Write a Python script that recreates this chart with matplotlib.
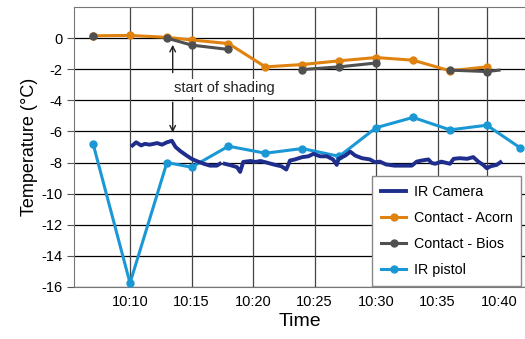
import numpy as np
import matplotlib
matplotlib.use("Agg")
import matplotlib.pyplot as plt
from matplotlib.ticker import FuncFormatter, FixedLocator

plt.rcParams['font.family'] = ['Liberation Sans', 'DejaVu Sans']
plt.rcParams['axes.unicode_minus'] = False

# times are minutes after 10:00
cam_t = [10.2, 10.5, 10.9, 11.2, 11.6, 12.2, 12.6, 13.0, 13.4, 13.7, 14.1, 14.6,
         15.0, 15.4, 16.0, 16.5, 17.05, 17.3, np.nan,
         17.7, 18.3, 18.7, 18.95, 19.2, 19.8, 20.2, 20.6, 21.0, 21.8, 22.3, 22.7,
         23.0, 23.4, 24.0, 24.5, 24.9, 25.45, 26.0, 26.5, 26.8, 26.95, 27.5,
         27.9, 28.3, 28.85, 29.5, 29.9, 30.3, 30.8, 31.5, 32.4, 32.9, 33.3,
         33.7, 34.25, 34.5, 34.8, 35.3, 36.0, 36.3, 36.8, 37.4, 37.9, 38.3,
         38.7, 39.0, 39.3, 39.8, 40.1]
cam_v = [-6.9, -6.7, -6.9, -6.8, -6.85, -6.75, -6.85, -6.7, -6.6, -7.0, -7.27, -7.55,
         -7.76, -7.9, -8.08, -8.2, -8.2, -8.08, np.nan,
         -8.08, -8.2, -8.3, -8.6, -7.96, -7.9, -7.96, -7.9, -7.98, -8.15, -8.24, -8.45,
         -7.87, -7.8, -7.65, -7.6, -7.44, -7.6, -7.6, -7.8, -8.15, -7.76, -7.55,
         -7.3, -7.55, -7.72, -7.8, -7.98, -7.94, -8.12, -8.2, -8.2, -8.2, -7.94,
         -7.87, -7.8, -8.02, -8.08, -7.94, -8.08, -7.76, -7.72, -7.76, -7.65, -7.94,
         -8.15, -8.37, -8.24, -8.15, -7.98]

acorn_t = [7, 10, 13, 15, 18, 21, 24, 27, 30, 33, 36, 39]
acorn_v = [0.15, 0.17, 0.05, -0.12, -0.35, -1.85, -1.7, -1.46, -1.25, -1.42, -2.1, -1.85]

bios_t = [7, 10, 13, 15, 18, 21, 24, 27, 30, 33, 36, 39, 40]
bios_v = [0.13, np.nan, 0.0, -0.45, -0.73, np.nan, -2.02, -1.85, -1.6, np.nan, -2.06, -2.15, -2.06]

pistol_t = [7, 10, 13, 15, 18, 21, 24, 27, 30, 33, 36, 39, 41.7]
pistol_v = [-6.8, -15.75, -8.0, -8.3, -6.95, -7.4, -7.1, -7.6, -5.76, -5.1, -5.9, -5.6, -7.05]

x_ticks = [10, 15, 20, 25, 30, 35, 40]
x_grid = [10, 15, 20, 25, 30, 35, 39]
y_ticks = list(range(-16, 1, 2))

fig = plt.figure(figsize=(5.25, 3.39), dpi=100)
ax = fig.add_axes([0.141, 0.1534, 0.859, 0.826])

ax.plot(cam_t, cam_v, color='#1f2e8c', lw=2.8, label='IR Camera', zorder=5)
ax.plot(acorn_t, acorn_v, color='#e0820f', lw=2.2, marker='o', ms=5,
        label='Contact - Acorn', zorder=3)
ax.plot(bios_t, bios_v, color='#505050', lw=2.2, marker='o', ms=5,
        markevery=list(range(12)), label='Contact - Bios', zorder=4)
ax.plot(pistol_t, pistol_v, color='#1a98d5', lw=2.2, marker='o', ms=5,
        label='IR pistol', zorder=3)

ax.set_xlim(5.45, 42.1)
ax.set_ylim(-16, 2)
ax.xaxis.set_major_locator(FixedLocator(x_ticks))
ax.xaxis.set_major_formatter(FuncFormatter(lambda v, p: "10:%02d" % int(round(v))))
ax.set_yticks(y_ticks)

# vertical grid (excel-style, not exactly on the labels at the right end)
for g in x_grid:
    ax.axvline(g, color='#444444', lw=0.9, zorder=1)
ax.grid(axis='y', color='black', lw=0.9)
ax.set_axisbelow(True)
ax.tick_params(axis='x', length=0, labelsize=10.5, pad=6)
ax.tick_params(axis='y', length=5, direction='out', color='#555555', labelsize=10.5)
for s in ['left', 'bottom', 'top']:
    ax.spines[s].set_color('#777777')
ax.spines['right'].set_visible(False)

ax.set_xlabel('Time', fontsize=14, labelpad=3)
ax.set_ylabel('Temperature (°C)', fontsize=13, labelpad=2)

# annotation
ax.text(17.65, -3.2, 'start of shading', ha='center', va='center', fontsize=10.5,
        color='#222222', bbox=dict(facecolor='white', edgecolor='none', pad=1.5), zorder=6)
ax.annotate('', xy=(13.47, -0.25), xytext=(13.47, -2.4),
            arrowprops=dict(arrowstyle='->', color='#222222', lw=1), zorder=6)
ax.annotate('', xy=(13.47, -6.25), xytext=(13.47, -3.95),
            arrowprops=dict(arrowstyle='->', color='#222222', lw=1), zorder=6)

leg = ax.legend(loc='lower left', bbox_to_anchor=(0.661, 0.005), fontsize=10.3,
                frameon=True, fancybox=False, handlelength=1.8, labelspacing=0.85,
                borderpad=0.6, handletextpad=0.5, borderaxespad=0, framealpha=1)
leg.get_frame().set_edgecolor('#888888')
leg.get_frame().set_linewidth(1)
leg.set_zorder(10)

fig.savefig('out.png', dpi=100)
